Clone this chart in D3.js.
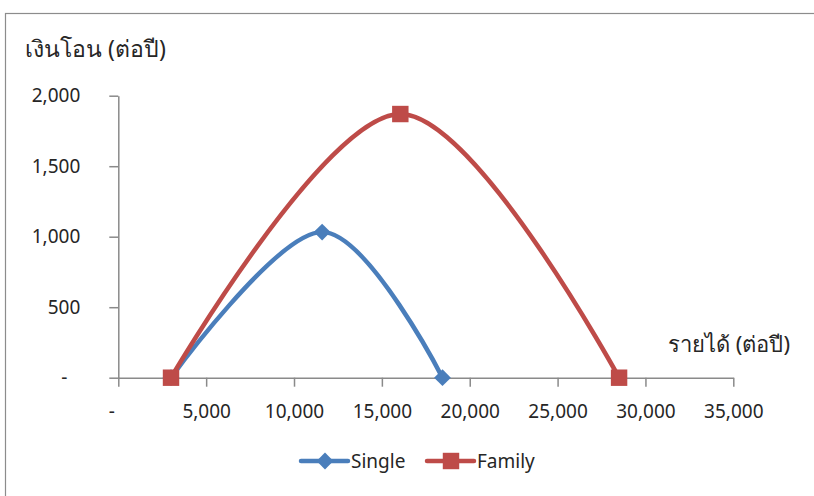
<!DOCTYPE html>
<html>
<head>
<meta charset="utf-8">
<script src="https://cdn.jsdelivr.net/npm/d3@7"></script>
<style>
  html, body { margin: 0; padding: 0; background: #fff; }
  svg { display: block; font-family: "Noto Sans", "Open Sans", sans-serif; }
</style>
</head>
<body>
<svg id="chart" width="814" height="496"></svg>
<script>
// Income (x) and transfer (y) points for each household type
const singleIncome = [3000, 11600, 18450];
const singleTransfer = [0, 1033, 0];
const familyIncome = [3000, 16050, 28500];
const familyTransfer = [0, 1870, 0];

const seriesNames = ["Single", "Family"];
const seriesColors = ["#4A7EBB", "#BE4B48"];

const xTicks = [0, 5000, 10000, 15000, 20000, 25000, 30000, 35000];
const yTicks = [0, 500, 1000, 1500, 2000];

const yTitle = "เงินโอน (ต่อปี)";
const xTitle = "รายได้ (ต่อปี)";

const svg = d3.select("#chart");

// chart frame
svg.append("rect")
  .attr("x", 5.5).attr("y", 13.5)
  .attr("width", 830).attr("height", 500)
  .attr("fill", "#fff").attr("stroke", "#8c8c8c").attr("stroke-width", 1.2);

const x = d3.scaleLinear().domain([0, 35000]).range([118.3, 733.3]);
const y = d3.scaleLinear().domain([0, 2000]).range([377.7, 95.7]);

const fmt = d => d === 0 ? "-" : d3.format(",")(d);
const axisColor = "#8a8a8a";

// y axis
const gy = svg.append("g")
  .attr("transform", `translate(${x(0)},0)`)
  .call(d3.axisLeft(y).tickValues(yTicks).tickFormat(fmt)
    .tickSize(9).tickSizeOuter(0).tickPadding(29));
// x axis
const gx = svg.append("g")
  .attr("transform", `translate(0,${y(0)})`)
  .call(d3.axisBottom(x).tickValues(xTicks).tickFormat(fmt)
    .tickSize(9).tickSizeOuter(0).tickPadding(18));

[gx, gy].forEach(g => {
  g.select(".domain").attr("stroke", axisColor).attr("stroke-width", 1.5);
  g.selectAll(".tick line").attr("stroke", axisColor).attr("stroke-width", 1.5);
  g.selectAll(".tick text")
    .attr("fill", "#262626")
    .style("font-size", "19px")
    .style("font-family", "\"Noto Sans\", sans-serif");
});
// the zero labels carry trailing padding like accounting format
gy.selectAll(".tick text").filter(d => d === 0).attr("dx", -13);
gx.selectAll(".tick text").filter(d => d === 0).attr("dx", -7);

// axis titles
svg.append("text")
  .attr("x", 25).attr("y", 57)
  .attr("fill", "#262626")
  .style("font-size", "23px")
  .text(yTitle);
svg.append("text")
  .attr("x", 790).attr("y", 352)
  .attr("text-anchor", "end")
  .attr("fill", "#262626")
  .style("font-size", "22px")
  .text(xTitle);

const line = d3.line()
  .x(d => x(d[0])).y(d => y(d[1]))
  .curve(d3.curveCatmullRom.alpha(0));

const data = [
  d3.zip(singleIncome, singleTransfer),
  d3.zip(familyIncome, familyTransfer)
];

const diamond = d3.symbol().type(d3.symbolDiamond2).size(180);
const square = d3.symbol().type(d3.symbolSquare).size(270);

data.forEach((pts, i) => {
  svg.append("path")
    .datum(pts)
    .attr("d", line)
    .attr("fill", "none")
    .attr("stroke", seriesColors[i])
    .attr("stroke-width", 4.5)
    .attr("stroke-linecap", "round");
});

data.forEach((pts, i) => {
  svg.selectAll(null)
    .data(pts)
    .join("path")
    .attr("transform", d => `translate(${x(d[0])},${y(d[1])})`)
    .attr("d", i === 0 ? diamond() : square())
    .attr("fill", seriesColors[i]);
});

// legend
const legend = svg.append("g");
const legendX = [301, 427];
seriesNames.forEach((name, i) => {
  const g = legend.append("g").attr("transform", `translate(${legendX[i]},461)`);
  g.append("line")
    .attr("x1", 0).attr("x2", 47)
    .attr("stroke", seriesColors[i]).attr("stroke-width", 4.5)
    .attr("stroke-linecap", "round");
  g.append("path")
    .attr("transform", "translate(24,0)")
    .attr("d", i === 0 ? diamond() : square())
    .attr("fill", seriesColors[i]);
  g.append("text")
    .attr("x", 50).attr("y", 6.5)
    .attr("fill", "#262626")
    .style("font-size", "19px")
    .text(name);
});
</script>
</body>
</html>
